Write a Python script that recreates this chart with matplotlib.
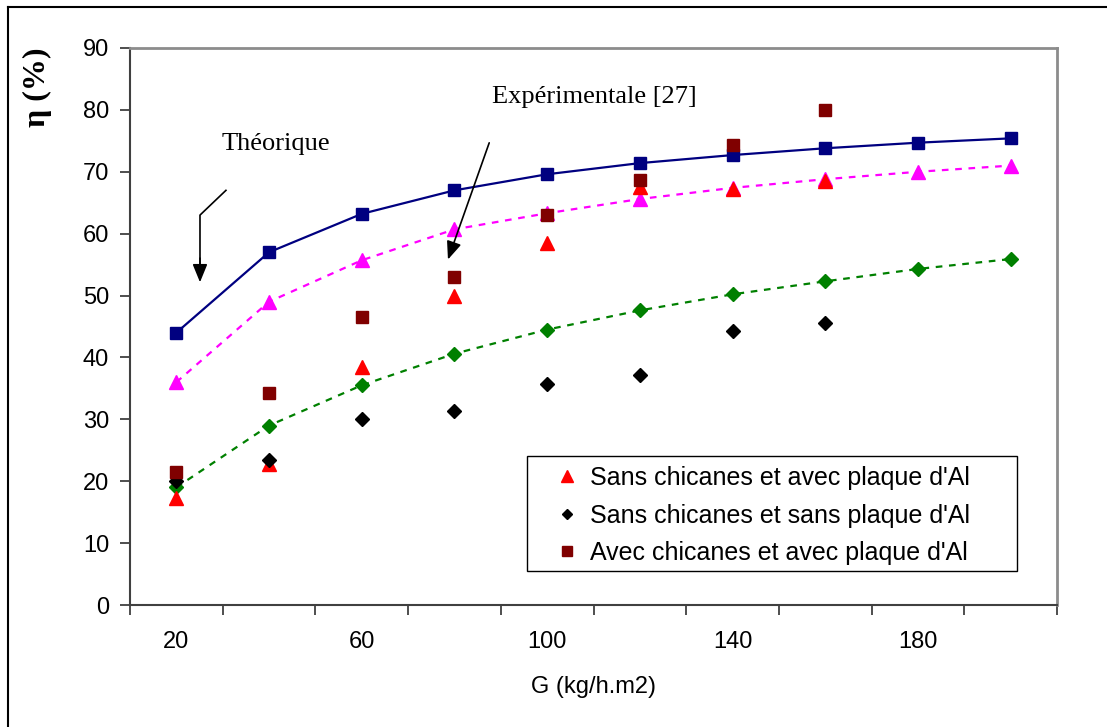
import matplotlib
matplotlib.use('Agg')
import matplotlib.pyplot as plt
from matplotlib.lines import Line2D
from matplotlib.patches import Rectangle

# G values (kg/h.m2)
G_all = [20, 40, 60, 80, 100, 120, 140, 160, 180, 200]
G_exp = [20, 40, 60, 80, 100, 120, 140, 160]

# theoretical curves
theo_top = [44, 57, 63.2, 67, 69.6, 71.4, 72.7, 73.8, 74.7, 75.4]
theo_mid = [36, 49, 55.7, 60.7, 63.3, 65.6, 67.4, 68.8, 70, 71]
theo_low = [19, 29, 35.5, 40.6, 44.5, 47.6, 50.2, 52.3, 54.3, 55.9]

# experimental points [27]
exp_sans_avec = [17.3, 22.8, 38.5, 50, 58.5, 67.6, 67.2, 68.5]
exp_sans_sans = [20, 23.5, 30, 31.3, 35.7, 37.2, 44.3, 45.6]
exp_avec_avec = [21.5, 34.3, 46.5, 53, 63, 68.6, 74.3, 80]

legend_labels = ["Sans chicanes et avec plaque d'Al",
                 "Sans chicanes et sans plaque d'Al",
                 "Avec chicanes et avec plaque d'Al"]

plt.rcParams['font.family'] = ['Liberation Sans', 'DejaVu Sans']

fig = plt.figure(figsize=(11.07, 7.27), dpi=100)
ax = fig.add_axes([130/1107, 122/727, 927/1107, 557/727])

# outer frame (left and top edges visible)
fig.add_artist(Line2D([8/1107, 8/1107], [0, 720/727], transform=fig.transFigure, color='black', lw=1.5))
fig.add_artist(Line2D([8/1107, 1], [720/727, 720/727], transform=fig.transFigure, color='black', lw=1.5))

ax.plot(G_all, theo_top, color='#000080', lw=1.6, marker='s', ms=9, zorder=3)
ax.plot(G_all, theo_mid, color='#FF00FF', lw=1.6, ls=(0, (3, 3)), marker='^', ms=10, zorder=3)
ax.plot(G_all, theo_low, color='#008000', lw=1.6, ls=(0, (3, 3)), marker='D', ms=7, zorder=3)

ax.plot(G_exp, exp_sans_avec, ls='none', color='#FF0000', marker='^', ms=10, label=legend_labels[0], zorder=4)
ax.plot(G_exp, exp_sans_sans, ls='none', color='black', marker='D', ms=7, label=legend_labels[1], zorder=4)
ax.plot(G_exp, exp_avec_avec, ls='none', color='#800000', marker='s', ms=9, label=legend_labels[2], zorder=5)

ax.set_xlim(10, 210)
ax.set_ylim(0, 90)
ax.set_yticks(range(0, 91, 10))
ax.set_xticks(range(10, 211, 20))
ax.set_xticklabels([])
ax.set_xticks([20, 60, 100, 140, 180], minor=True)
ax.set_xticklabels(['20', '60', '100', '140', '180'], minor=True)
ax.tick_params(axis='x', which='major', direction='out', length=7, width=1.3, color='#404040')
ax.tick_params(axis='x', which='minor', length=0, pad=19, labelsize=17)
ax.tick_params(axis='y', direction='out', length=7, width=1.3, color='#404040', pad=8, labelsize=17)

for s in ['left', 'bottom']:
    ax.spines[s].set_color('#404040')
    ax.spines[s].set_linewidth(1.5)
for s in ['top', 'right']:
    ax.spines[s].set_color('#8c8c8c')
    ax.spines[s].set_linewidth(2)

ax.set_xlabel('G (kg/h.m2)', fontsize=17, labelpad=16)
fig.text(37/1107, 1 - 87/727, 'η (%)', rotation=90, fontsize=23, fontweight='bold',
         family='Liberation Serif', ha='center', va='center')

# annotations
ax.text(41.5, 74.5, 'Théorique', fontsize=19, family='Liberation Serif', ha='center', va='center')
ax.plot([30.7, 25.1, 25.1], [67.0, 63.0, 55.0], color='black', lw=1.2)
ax.annotate('', xy=(25.1, 51.7), xytext=(25.1, 56.5),
            arrowprops=dict(arrowstyle='-|>,head_width=0.45,head_length=1.1', color='black', lw=1.2))
ax.text(110.1, 82.1, 'Expérimentale [27]', fontsize=19, family='Liberation Serif', ha='center', va='center')
ax.annotate('', xy=(78.4, 55.4), xytext=(87.7, 75.1),
            arrowprops=dict(arrowstyle='-|>,head_width=0.45,head_length=1.1', color='black', lw=1.2))

# legend box drawn separately, legend entries without frame
ax.add_patch(Rectangle((0.428, 0.061), 0.529, 0.2065, transform=ax.transAxes,
                       facecolor='white', edgecolor='black', lw=1.0, zorder=6))
leg = ax.legend(loc='upper left', bbox_to_anchor=(0.458, 0.2495), fontsize=18, frameon=False,
                handlelength=1.0, handletextpad=0.42, borderpad=0, labelspacing=0.54,
                borderaxespad=0, markerscale=0.8)
leg.set_zorder(7)

fig.savefig('out.png', dpi=100)
